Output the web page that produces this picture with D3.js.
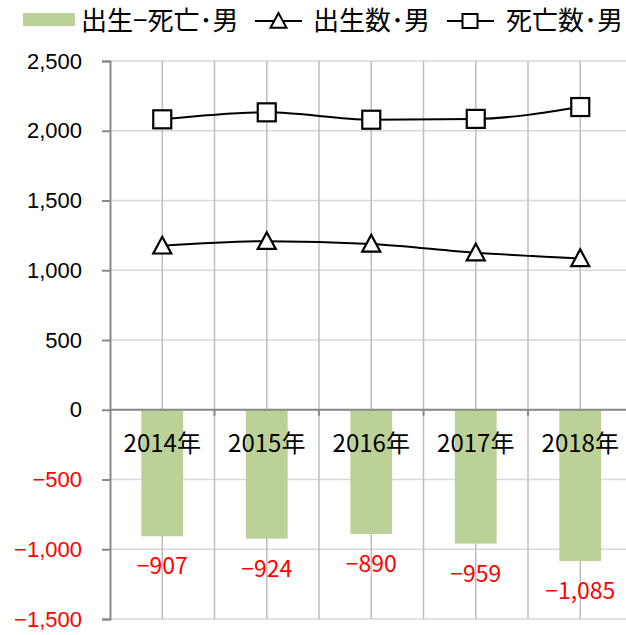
<!DOCTYPE html>
<html><head><meta charset="utf-8">
<script src="https://cdn.jsdelivr.net/npm/d3@7"></script>
<style>
html,body{margin:0;padding:0;background:#fff;}
svg{display:block;}
</style>
</head><body>
<svg id="c" width="626" height="635"></svg>
<script>
const years = ["2014年","2015年","2016年","2017年","2018年"];
const diffs = [-907, -924, -890, -959, -1085];
const births = [1175, 1208, 1189, 1126, 1085];
const deaths = [2082, 2132, 2079, 2085, 2170];
const yTicks = [-1500, -1000, -500, 0, 500, 1000, 1500, 2000, 2500];
const legendLabels = ["出生−死亡･男", "出生数･男", "死亡数･男"];

const svg = d3.select("#c");
const W = 626, H = 635;
const x = d3.scaleBand().domain(years).range([110, 632.5]).paddingInner(0).paddingOuter(0);
const y = d3.scaleLinear().domain([-1500, 2500]).range([619, 61]);
const bw = x.bandwidth();
const cx = d => x(d) + bw / 2;
const fmt = d3.format(",");
const jp = "'Noto Sans CJK JP', sans-serif";

// horizontal gridlines
svg.append("g").selectAll("line").data(yTicks).join("line")
  .attr("x1", 110).attr("x2", W).attr("y1", d => y(d)).attr("y2", d => y(d))
  .attr("stroke", "#d9d9d9").attr("stroke-width", 1.5);

// vertical gridlines (category centres and boundaries)
const vlines = [];
years.forEach((d, i) => { vlines.push(cx(d)); if (i > 0) vlines.push(x(d)); });
svg.append("g").selectAll("line").data(vlines).join("line")
  .attr("x1", d => d).attr("x2", d => d).attr("y1", y(2500)).attr("y2", y(-1500))
  .attr("stroke", "#bfbfbf").attr("stroke-width", 1.5);

// bars
svg.append("g").selectAll("rect").data(years).join("rect")
  .attr("x", d => cx(d) - bw * 0.2)
  .attr("width", bw * 0.4)
  .attr("y", y(0))
  .attr("height", (d, i) => y(diffs[i]) - y(0))
  .attr("fill", "#bbd197");

// y axis
const yAxis = d3.axisLeft(y).tickValues(yTicks).tickSize(8).tickPadding(20).tickFormat(d => fmt(d));
const gy = svg.append("g").attr("transform", "translate(110,0)").call(yAxis);
gy.select(".domain").attr("stroke", "#898989").attr("stroke-width", 2);
gy.selectAll(".tick line").attr("stroke", "#898989").attr("stroke-width", 2);
gy.selectAll(".tick text")
  .attr("font-family", "'Liberation Sans', Arial, sans-serif")
  .attr("font-size", 22)
  .attr("fill", d => d < 0 ? "#ff0000" : "#000");

// zero line (category axis)
svg.append("line").attr("x1", 110).attr("x2", W).attr("y1", y(0)).attr("y2", y(0))
  .attr("stroke", "#898989").attr("stroke-width", 2);
svg.append("g").selectAll("line").data(years.slice(1)).join("line")
  .attr("x1", d => x(d)).attr("x2", d => x(d)).attr("y1", y(0)).attr("y2", y(0) + 6)
  .attr("stroke", "#898989").attr("stroke-width", 2);

// category labels
svg.append("g").selectAll("text").data(years).join("text")
  .attr("x", d => cx(d)).attr("y", y(0) + 42)
  .attr("text-anchor", "middle")
  .attr("font-family", jp).attr("font-size", 24).attr("fill", "#000")
  .text(d => d);

// data labels
svg.append("g").selectAll("text").data(years).join("text")
  .attr("x", d => cx(d)).attr("y", (d, i) => y(diffs[i]) + 38)
  .attr("text-anchor", "middle")
  .attr("font-family", jp).attr("font-size", 23).attr("fill", "#ff0000")
  .text((d, i) => fmt(diffs[i]));

// lines
const line = d3.line().x(d => cx(d[0])).y(d => y(d[1])).curve(d3.curveMonotoneX);
svg.append("path").datum(years.map((d, i) => [d, births[i]]))
  .attr("d", line).attr("fill", "none").attr("stroke", "#000").attr("stroke-width", 2);
svg.append("path").datum(years.map((d, i) => [d, deaths[i]]))
  .attr("d", line).attr("fill", "none").attr("stroke", "#000").attr("stroke-width", 2);

const tri = (px, py, s) => `M${px},${py - s}L${px - s},${py + s * 0.85}L${px + s},${py + s * 0.85}Z`;
svg.append("g").selectAll("path").data(years).join("path")
  .attr("d", (d, i) => tri(cx(d), y(births[i]), 9))
  .attr("fill", "#fff").attr("stroke", "#000").attr("stroke-width", 2.2);
svg.append("g").selectAll("rect").data(years).join("rect")
  .attr("x", d => cx(d) - 9).attr("y", (d, i) => y(deaths[i]) - 9)
  .attr("width", 18).attr("height", 18)
  .attr("fill", "#fff").attr("stroke", "#000").attr("stroke-width", 2.2);

// legend
const lg = svg.append("g");
lg.append("rect").attr("x", 23).attr("y", 13).attr("width", 52).attr("height", 13).attr("fill", "#bbd197");
lg.append("text").attr("x", 81).attr("y", 30).attr("font-family", jp).attr("font-size", 26).attr("fill", "#000").text(legendLabels[0]);
lg.append("line").attr("x1", 255).attr("x2", 302).attr("y1", 21).attr("y2", 21).attr("stroke", "#000").attr("stroke-width", 2);
lg.append("path").attr("d", tri(278.5, 21, 8)).attr("fill", "#fff").attr("stroke", "#000").attr("stroke-width", 2);
lg.append("text").attr("x", 313).attr("y", 30).attr("font-family", jp).attr("font-size", 26).attr("fill", "#000").text(legendLabels[1]);
lg.append("line").attr("x1", 447).attr("x2", 494).attr("y1", 21).attr("y2", 21).attr("stroke", "#000").attr("stroke-width", 2);
lg.append("rect").attr("x", 462.5).attr("y", 14).attr("width", 15).attr("height", 14).attr("fill", "#fff").attr("stroke", "#000").attr("stroke-width", 2);
lg.append("text").attr("x", 506).attr("y", 30).attr("font-family", jp).attr("font-size", 26).attr("fill", "#000").text(legendLabels[2]);
</script>
</body></html>
